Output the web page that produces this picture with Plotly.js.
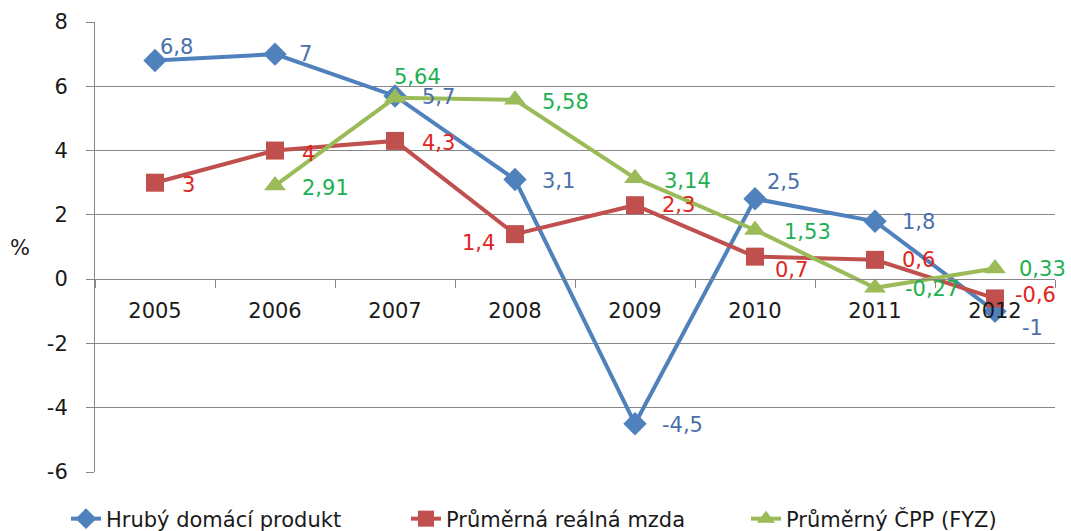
<!DOCTYPE html>
<html>
<head>
<meta charset="utf-8">
<script src="https://cdn.plot.ly/plotly-3.0.1.min.js"></script>
<style>html,body{margin:0;padding:0;background:#fff;}#chart{width:1071px;height:531px;}</style>
</head>
<body>
<div id="chart"></div>
<script>
// ---- data ----
const years = ["2005", "2006", "2007", "2008", "2009", "2010", "2011", "2012"];
const gdp = [6.8, 7, 5.7, 3.1, -4.5, 2.5, 1.8, -1];
const wage = [3, 4, 4.3, 1.4, 2.3, 0.7, 0.6, -0.6];
const cpp = [null, 2.91, 5.64, 5.58, 3.14, 1.53, -0.27, 0.33];
const seriesNames = ["Hrubý domácí produkt", "Průměrná reálná mzda", "Průměrný ČPP (FYZ)"];
const yTicks = [-6, -4, -2, 0, 2, 4, 6, 8];

// ---- styling ----
const lineColors = ["#4F81BD", "#C0504D", "#9BBB59"];
const labelColors = ["#4A6FAC", "#E0251F", "#1DB050"];
const symbols = ["diamond", "square", "triangle-up"];
const msizes = [18, 18, 19];
const FONT = "DejaVu Sans";
const FS = 21;
const legendTextX = [106, 446, 786]; // px from left of page where legend text starts

// label offsets in px: [dx, dy(down), anchor]
const offGdp = [[3,-14,'left'],[22,0,'left'],[25,1,'left'],[25,1,'left'],[25,1,'left'],[10,-17,'left'],[25,1,'left'],[25,17,'left']];
const offWage = [[25,2,'left'],[25,3,'left'],[25,2,'left'],[-18,9,'right'],[25,0,'left'],[18,13,'left'],[25,0,'left'],[18,-3,'left']];
const offCpp = [null,[25,2,'left'],[-3,-21,'left'],[25,2,'left'],[27,3,'left'],[27,2,'left'],[28,1,'left'],[22,0,'left']];

const allSeries = [gdp, wage, cpp];
const allOffs = [offGdp, offWage, offCpp];
const legendIds = ['legend', 'legend2', 'legend3'];

const traces = allSeries.map((vals, i) => ({
  type: 'scatter', mode: 'lines+markers', name: seriesNames[i],
  x: years, y: vals, legend: legendIds[i],
  line: {color: lineColors[i], width: 4},
  marker: {symbol: symbols[i], size: msizes[i], color: lineColors[i]},
  connectgaps: false
}));

const fmt = v => String(v).replace('.', ',');
const annotations = [];
allSeries.forEach((vals, i) => {
  vals.forEach((v, j) => {
    if (v === null) return;
    const o = allOffs[i][j];
    annotations.push({
      x: j, y: v, xref: 'x', yref: 'y', text: fmt(v), showarrow: false,
      xanchor: o[2], yanchor: 'middle', xshift: o[0], yshift: -o[1],
      font: {family: FONT, size: FS, color: labelColors[i]}
    });
  });
});
annotations.push({
  text: '%', xref: 'paper', yref: 'paper', x: -0.078, y: 0.498, showarrow: false,
  xanchor: 'center', yanchor: 'middle', font: {family: FONT, size: FS, color: '#1a1a1a'}
});

const yMin = -6, yMax = 8;
const W = 1071, H = 531;
const layout = {
  width: W, height: H,
  margin: {l: 95, r: 16, t: 22, b: 59, autoexpand: false},
  paper_bgcolor: '#fff', plot_bgcolor: '#fff',
  font: {family: FONT, size: FS, color: '#1a1a1a'},
  showlegend: true,
  xaxis: {
    type: 'category', range: [-0.5, 7.5], anchor: 'free',
    position: (0 - yMin) / (yMax - yMin),
    showgrid: false, showline: true, linecolor: '#868686', linewidth: 1,
    ticks: 'outside', tickson: 'boundaries', ticklen: 8, tickcolor: '#868686',
    tickfont: {family: FONT, size: FS, color: '#1a1a1a'}, ticklabelstandoff: 13,
    zeroline: false, fixedrange: true
  },
  yaxis: {
    range: [yMin, yMax], tickvals: yTicks, ticktext: yTicks.map(String),
    showgrid: true, gridcolor: '#868686', gridwidth: 1,
    showline: true, linecolor: '#868686', linewidth: 1,
    ticks: 'outside', ticklen: 8, tickcolor: '#868686',
    tickfont: {family: FONT, size: FS, color: '#1a1a1a'}, ticklabelstandoff: 14,
    zeroline: false, fixedrange: true
  },
  annotations: annotations
};
legendIds.forEach((id, i) => {
  layout[id] = {
    orientation: 'h', xref: 'container', yref: 'container',
    x: (legendTextX[i] - 40) / W, xanchor: 'left', y: (H - 519) / H, yanchor: 'middle',
    font: {family: FONT, size: 21, color: '#1a1a1a'},
    bgcolor: 'rgba(0,0,0,0)', borderwidth: 0
  };
});

Plotly.newPlot('chart', traces, layout, {displayModeBar: false, staticPlot: true});
</script>
</body>
</html>
